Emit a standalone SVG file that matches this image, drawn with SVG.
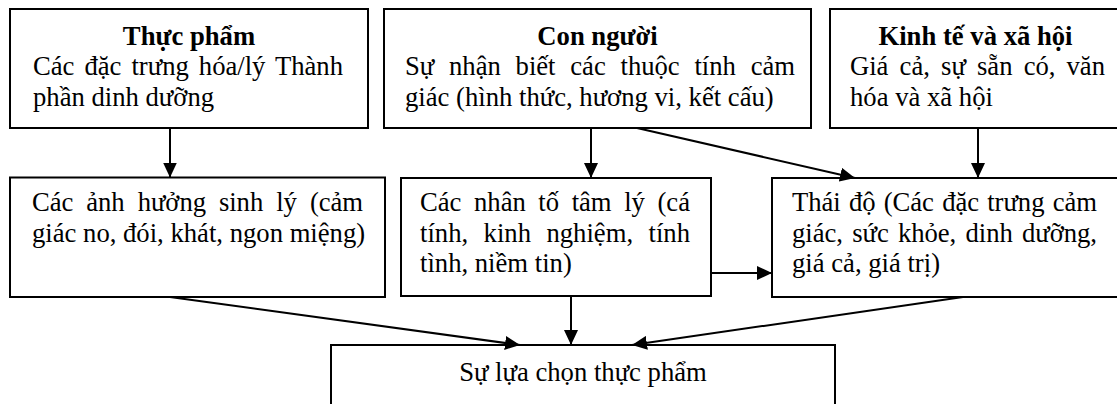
<svg xmlns="http://www.w3.org/2000/svg" width="1117" height="404" viewBox="0 0 1117 404">
  <style>
    .box { fill: #ffffff; stroke: #000000; stroke-width: 2; }
    .t { font-family: 'Liberation Serif', serif; font-size: 26.67px; fill: #000000; }
    .b { font-weight: bold; text-anchor: middle; }
    .c { text-anchor: middle; }
    .edge { stroke: #000000; stroke-width: 2; fill: none; marker-end: url(#arrow); }
  </style>
  <defs>
    <marker id="arrow" markerUnits="userSpaceOnUse" markerWidth="16" markerHeight="14" refX="15" refY="7" orient="auto">
      <path d="M0,0 L15,7 L0,14 Z" fill="#000000"/>
    </marker>
  </defs>

  <rect width="1117" height="404" fill="#ffffff"/>

  <!-- top row -->
  <g id="thuc-pham">
    <rect class="box" x="10" y="9" width="358" height="119"/>
    <text class="t b" x="189" y="44.5">Thực phẩm</text>
    <text class="t" x="33" y="75" textLength="310" lengthAdjust="spacing" style="word-spacing:3.4px">Các đặc trưng hóa/lý Thành</text>
    <text class="t" x="33" y="105.5">phần dinh dưỡng</text>
  </g>

  <g id="con-nguoi">
    <rect class="box" x="384" y="9" width="427" height="119"/>
    <text class="t b" x="597.5" y="44.5">Con người</text>
    <text class="t" x="405" y="75" textLength="390" lengthAdjust="spacing" style="word-spacing:8.2px">Sự nhận biết các thuộc tính cảm</text>
    <text class="t" x="405" y="105.5">giác (hình thức, hương vi, kết cấu)</text>
  </g>

  <g id="kinh-te-xa-hoi">
    <rect class="box" x="830" y="9" width="291" height="119"/>
    <text class="t b" x="975.5" y="44.5">Kinh tế và xã hội</text>
    <text class="t" x="850" y="75" textLength="255" lengthAdjust="spacing" style="word-spacing:4.6px">Giá cả, sự sẵn có, văn</text>
    <text class="t" x="850" y="105.5">hóa và xã hội</text>
  </g>

  <!-- middle row -->
  <g id="sinh-ly">
    <rect class="box" x="10" y="177.5" width="375" height="119.5"/>
    <text class="t" x="32" y="211" textLength="331" lengthAdjust="spacing" style="word-spacing:6.5px">Các ảnh hưởng sinh lý (cảm</text>
    <text class="t" x="32" y="241.5">giác no, đói, khát, ngon miệng)</text>
  </g>

  <g id="tam-ly">
    <rect class="box" x="401" y="178" width="310" height="118"/>
    <text class="t" x="420" y="211" textLength="270" lengthAdjust="spacing" style="word-spacing:5.9px">Các nhân tố tâm lý (cá</text>
    <text class="t" x="420" y="241.5" textLength="270" lengthAdjust="spacing" style="word-spacing:8.7px">tính, kinh nghiệm, tính</text>
    <text class="t" x="420" y="272">tình, niềm tin)</text>
  </g>

  <g id="thai-do">
    <rect class="box" x="772" y="178" width="350" height="119"/>
    <text class="t" x="792" y="211" textLength="305" lengthAdjust="spacing" style="word-spacing:1.6px">Thái độ (Các đặc trưng cảm</text>
    <text class="t" x="792" y="241.5" textLength="305" lengthAdjust="spacing" style="word-spacing:2.6px">giác, sức khỏe, dinh dưỡng,</text>
    <text class="t" x="792" y="272">giá cả, giá trị)</text>
  </g>

  <!-- bottom -->
  <g id="lua-chon">
    <rect class="box" x="331" y="345" width="504" height="80"/>
    <text class="t c" x="583" y="381">Sự lựa chọn thực phẩm</text>
  </g>

  <!-- connectors -->
  <g id="connectors">
    <line class="edge" x1="170" y1="128" x2="170" y2="177.5"/>
    <line class="edge" x1="591" y1="128" x2="591" y2="178"/>
    <line class="edge" x1="637" y1="128" x2="855" y2="178"/>
    <line class="edge" x1="978" y1="128" x2="978" y2="178"/>
    <line class="edge" x1="711" y1="273" x2="772" y2="273"/>
    <line class="edge" x1="170" y1="297" x2="520" y2="345"/>
    <line class="edge" x1="571" y1="296" x2="571" y2="345"/>
    <line class="edge" x1="963" y1="297" x2="632" y2="345"/>
  </g>
</svg>
